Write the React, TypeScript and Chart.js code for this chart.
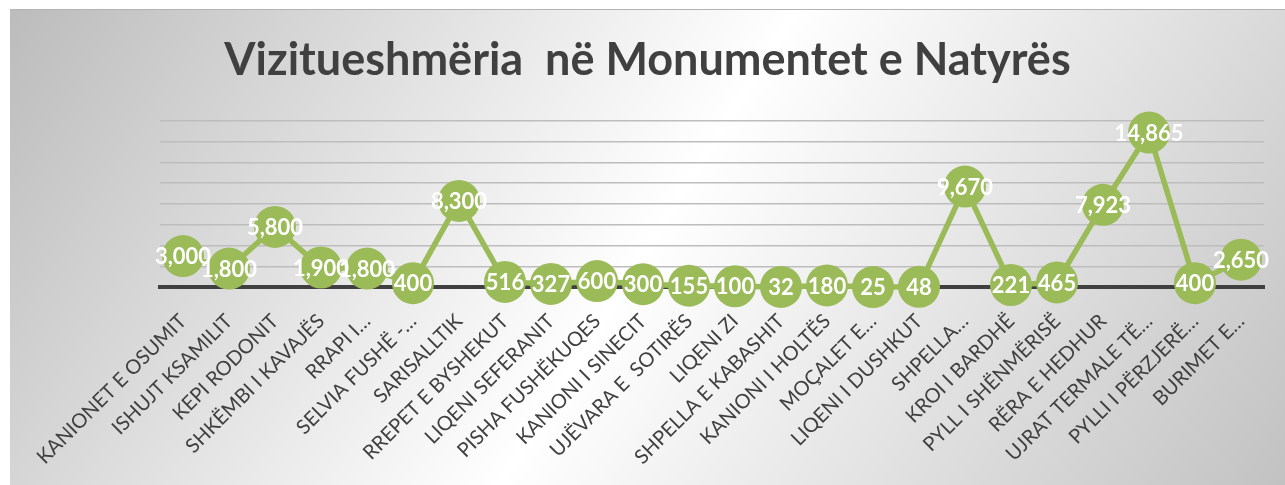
import React, { useEffect, useRef } from "react";
import { Chart, registerables } from "chart.js";

Chart.register(...registerables);

const chartTitle = "Vizitueshmëria  në Monumentet e Natyrës";

const categories = [
  "KANIONET E OSUMIT",
  "ISHUJT KSAMILIT",
  "KEPI RODONIT",
  "SHKËMBI I KAVAJËS",
  "RRAPI I…",
  "SELVIA FUSHË -…",
  "SARISALLTIK",
  "RREPET E BYSHEKUT",
  "LIQENI SEFERANIT",
  "PISHA FUSHËKUQES",
  "KANIONI I SINECIT",
  "UJËVARA E  SOTIRËS",
  "LIQENI ZI",
  "SHPELLA E KABASHIT",
  "KANIONI I HOLTËS",
  "MOÇALET E…",
  "LIQENI I DUSHKUT",
  "SHPELLA…",
  "KROI I BARDHË",
  "PYLL I SHËNMËRISË",
  "RËRA E HEDHUR",
  "UJRAT TERMALE TË…",
  "PYLLI I PËRZJERË…",
  "BURIMET E…",
];

const visitors = [
  3000, 1800, 5800, 1900, 1800, 400, 8300, 516, 327, 600, 300, 155, 100, 32,
  180, 25, 48, 9670, 221, 465, 7923, 14865, 400, 2650,
];

const yMin = 0;
const yMax = 16000;
const yStep = 2000;

const GREEN = "#9BBB59";
const DARK = "#404040";

const fmt = (v: number) => v.toLocaleString("en-US");

const valueLabels = {
  id: "valueLabels",
  afterDatasetsDraw(chart: any) {
    const ctx = chart.ctx;
    const meta = chart.getDatasetMeta(0);
    ctx.save();
    ctx.font = "bold 22px Lato";
    ctx.fillStyle = "#ffffff";
    ctx.textAlign = "center";
    ctx.textBaseline = "middle";
    meta.data.forEach((pt: any, i: number) => {
      ctx.fillText(fmt(visitors[i]), pt.x, pt.y + 1);
    });
    ctx.restore();
  },
};

export default function App() {
  const canvasRef = useRef<HTMLCanvasElement | null>(null);

  useEffect(() => {
    if (!canvasRef.current) return;
    const chart = new Chart(canvasRef.current, {
      type: "line",
      data: {
        labels: categories,
        datasets: [
          {
            label: "Vizitorë",
            data: visitors,
            borderColor: GREEN,
            backgroundColor: GREEN,
            borderWidth: 5.5,
            pointRadius: 21,
            pointBackgroundColor: GREEN,
            pointBorderWidth: 0,
            pointHoverRadius: 21,
            tension: 0,
            clip: false,
          },
        ],
      },
      options: {
        animation: false,
        responsive: true,
        maintainAspectRatio: false,
        events: [],
        layout: { padding: { left: 0, right: 0, top: 0, bottom: 0 } },
        plugins: {
          legend: { display: false },
          tooltip: { enabled: false },
          title: {
            display: true,
            text: chartTitle,
            color: DARK,
            font: { family: "Lato", weight: "bold", size: 45, lineHeight: 1.2 },
            padding: { top: 24, bottom: 33.7 },
          },
        },
        scales: {
          x: {
            type: "category",
            offset: true,
            grid: { display: false },
            border: { display: true, color: DARK, width: 4 },
            ticks: {
              autoSkip: false,
              minRotation: 45,
              maxRotation: 45,
              color: DARK,
              font: { family: "Lato", size: 20 },
              padding: 14,
            },
            afterFit: (s: any) => {
              s.height = 197.7;
            },
          },
          y: {
            type: "linear",
            min: yMin,
            max: yMax,
            ticks: { display: false, stepSize: yStep },
            grid: { color: "#bdbdbd", lineWidth: 1.5, drawTicks: false },
            border: { display: false },
            afterFit: (s: any) => {
              s.width = 150;
            },
          },
          yRight: {
            type: "linear",
            position: "right",
            display: true,
            ticks: { display: false },
            grid: { display: false, drawTicks: false },
            border: { display: false },
            afterFit: (s: any) => {
              s.width = 20;
            },
          },
        },
      },
      plugins: [valueLabels],
    } as any);
    return () => chart.destroy();
  }, []);

  return (
    <div
      style={{
        position: "absolute",
        left: 10,
        top: 9,
        width: 1275,
        height: 476,
        background:
          "linear-gradient(122deg, #bcbcbc 0%, #ffffff 50%, #c2c2c2 100%)",
        boxShadow: "inset 0 1px 0 #b3b3b3",
      }}
    >
      <canvas ref={canvasRef} />
    </div>
  );
}
